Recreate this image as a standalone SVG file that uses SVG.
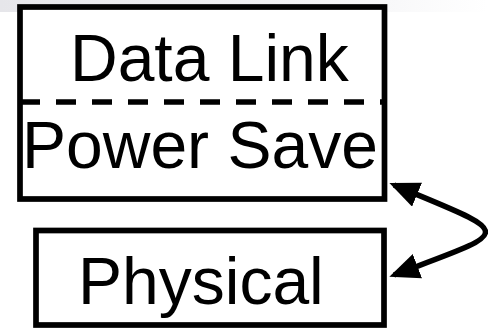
<svg xmlns="http://www.w3.org/2000/svg" width="488" height="328" viewBox="0 0 488 328">
  <defs>
    <linearGradient id="topShade" x1="0" y1="0" x2="1" y2="0">
      <stop offset="0" stop-color="#e6e6ea"/>
      <stop offset="0.6" stop-color="#f2f2f4"/>
      <stop offset="1" stop-color="#ffffff"/>
    </linearGradient>
    <marker id="head" markerUnits="userSpaceOnUse" viewBox="0 0 30 26" markerWidth="30" markerHeight="26" refX="25" refY="13" orient="auto-start-reverse">
      <path d="M0,0 L30,13 L0,26 z" fill="#000"/>
    </marker>
  </defs>
  <style>
    .box { fill: #fff; stroke: #000; stroke-width: 5.7; }
    .lbl { font-family: "Liberation Sans", Arial, sans-serif; font-size: 66px; fill: #000; }
    .split { stroke: #000; stroke-width: 5.5; stroke-dasharray: 20 16; fill: none; }
    .link { stroke: #000; stroke-width: 5.5; fill: none; }
  </style>
  <rect width="488" height="328" fill="#fff"/>
  <rect x="0" y="0" width="488" height="12" fill="url(#topShade)"/>

  <g id="data-link">
    <rect class="box" x="20" y="7" width="364.5" height="192"/>
    <text class="lbl" x="70" y="81">Data Link</text>
    <line class="split" x1="20" y1="102" x2="384.5" y2="102"/>
    <text class="lbl" x="22" y="168">Power Save</text>
  </g>

  <g id="physical">
    <rect class="box" x="36" y="230.5" width="348" height="94.5"/>
    <text class="lbl" x="78" y="304">Physical</text>
  </g>

  <g id="connectors">
    <path class="link" d="M394,185 C516,236 516,229 394,275" marker-start="url(#head)" marker-end="url(#head)"/>
  </g>
</svg>
